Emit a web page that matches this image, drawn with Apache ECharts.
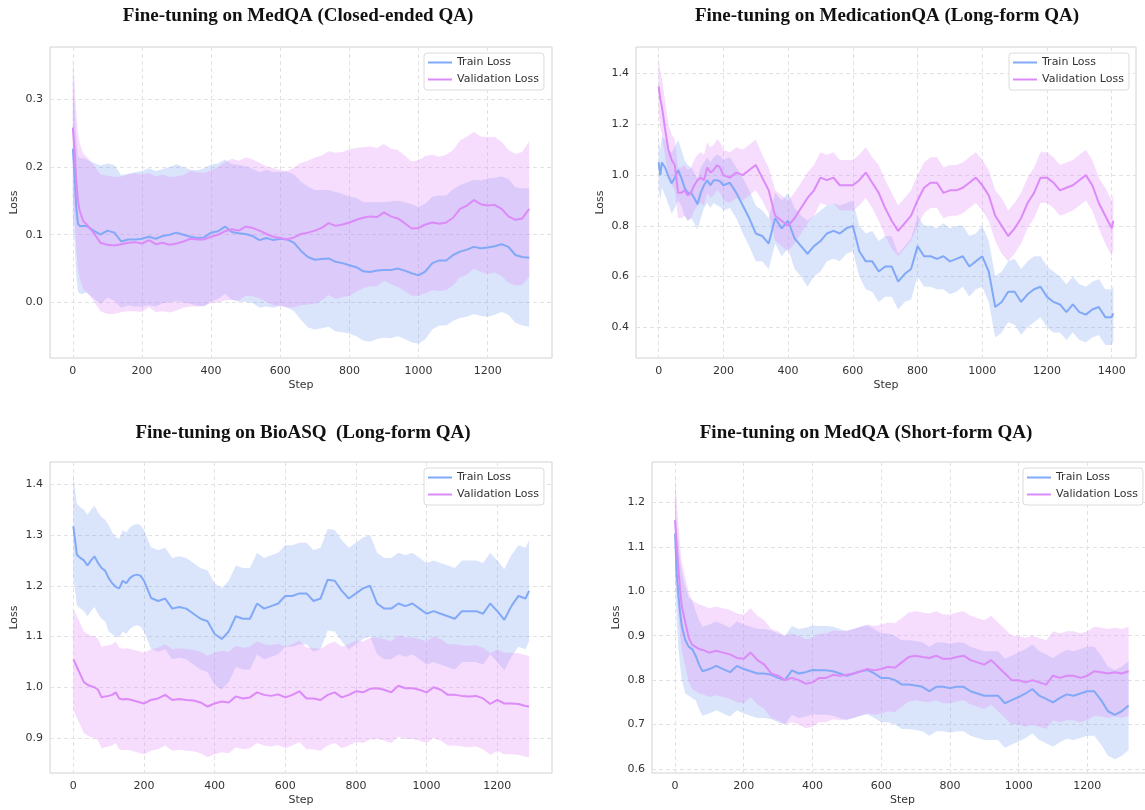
<!DOCTYPE html>
<html>
<head>
<meta charset="utf-8">
<title>Fine-tuning loss curves</title>
<script src="https://cdn.jsdelivr.net/npm/echarts@6/dist/echarts.min.js"></script>
<style>
  html, body { margin: 0; padding: 0; background: #fff; }
  #chart { width: 1145px; height: 810px; }
</style>
</head>
<body>
<div id="chart"></div>
<script>
// ---- MedQA (Closed-ended QA)
const p1Steps = [0,5,10,15,20,30,40,60,80,100,120,140,160,180,200,220,240,260,280,300,320,340,360,380,400,420,440,460,480,500,520,540,560,580,600,620,640,660,680,700,720,740,760,780,800,820,840,860,880,900,920,940,960,980,1000,1020,1040,1060,1080,1100,1120,1140,1160,1180,1200,1220,1240,1260,1280,1300,1320];
const p1TrainMean = [0.227,0.19,0.14,0.116,0.113,0.113,0.113,
  0.106,0.100,0.106,0.103,0.090,0.093,0.093,0.094,0.097,0.094,
  0.098,0.100,0.103,0.100,0.097,0.095,0.096,0.103,0.105,0.112,
  0.104,0.102,0.101,0.098,0.092,0.095,0.092,0.094,0.093,0.088,
  0.076,0.067,0.063,0.064,0.065,0.060,0.058,0.055,0.052,0.046,
  0.045,0.047,0.048,0.048,0.050,0.047,0.043,0.040,0.046,0.058,
  0.062,0.062,0.070,0.075,0.078,0.082,0.080,0.081,0.083,0.086,
  0.082,0.070,0.067,0.066];
const p1TrainStd = [0.105,0.10,0.10,0.10,0.10,0.10,0.098,0.10,0.102,0.099,
  0.10,0.098,0.097,0.099,0.10,0.101,0.10,0.099,0.10,0.101,
  0.10,0.099,0.10,0.102,0.101,0.10,0.099,0.10,0.101,0.100,
  0.099,0.100,0.101,0.100,0.099,0.100,0.101,0.102,0.104,0.103,
  0.102,0.101,0.103,0.102,0.101,0.102,0.102,0.103,0.101,0.100,
  0.101,0.100,0.101,0.102,0.101,0.100,0.098,0.096,0.096,0.097,
  0.098,0.099,0.099,0.100,0.102,0.101,0.100,0.100,0.100,0.101,
  0.102];
const p1ValMean = [0.258,0.225,0.18,0.15,0.135,0.120,0.115,
  0.103,0.088,0.085,0.084,0.086,0.088,0.089,0.087,0.092,0.086,
  0.088,0.085,0.087,0.090,0.094,0.093,0.093,0.097,0.100,0.105,
  0.108,0.106,0.112,0.110,0.106,0.101,0.097,0.095,0.093,0.096,
  0.101,0.103,0.106,0.110,0.117,0.113,0.115,0.118,0.122,0.125,
  0.127,0.126,0.133,0.127,0.124,0.117,0.109,0.110,0.115,0.118,
  0.116,0.118,0.125,0.138,0.143,0.151,0.145,0.143,0.144,0.138,
  0.127,0.122,0.124,0.138];
const p1ValStd = [0.102,0.10,0.10,0.10,0.10,0.10,0.10,
  0.10,0.101,0.102,0.101,0.100,0.101,0.102,0.101,0.099,0.100,
  0.101,0.100,0.099,0.098,0.100,0.099,0.098,0.098,0.100,0.102,
  0.104,0.103,0.102,0.101,0.100,0.100,0.101,0.100,0.101,0.103,
  0.105,0.106,0.108,0.107,0.106,0.108,0.107,0.108,0.106,0.104,
  0.103,0.102,0.101,0.100,0.101,0.100,0.099,0.100,0.101,0.100,
  0.099,0.100,0.100,0.101,0.102,0.101,0.100,0.101,0.100,0.099,
  0.098,0.097,0.098,0.100];
const p1XTicks = [0,200,400,600,800,1000,1200];
const p1YTicks = [0,0.1,0.2,0.3];

// ---- MedicationQA (Long-form QA)
const p2Steps = [0,5,10,20,30,40,50,60,70,80,90,100,110,120,130,140,150,160,170,180,190,200,220,240,260,280,300,320,340,360,380,400,420,440,460,480,500,520,540,560,580,600,620,640,660,680,700,720,740,760,780,800,820,840,860,880,900,920,940,960,980,1000,1020,1040,1060,1080,1100,1120,1140,1160,1180,1200,1220,1240,1260,1280,1300,1320,1340,1360,1380,1400,1405];
const p2TrainMean = [1.05,1.00,1.05,1.03,0.995,0.968,0.99,1.02,0.99,0.95,0.93,0.93,0.91,0.885,0.93,0.96,0.98,0.96,0.98,0.98,0.975,0.96,
  0.97,0.93,0.88,0.83,0.77,0.76,0.73,0.83,0.79,0.82,
  0.75,0.72,0.69,0.72,0.74,0.77,0.78,0.77,0.79,0.80,
  0.70,0.66,0.66,0.62,0.64,0.64,0.58,0.61,0.63,0.72,
  0.68,0.68,0.67,0.68,0.66,0.67,0.68,0.64,0.66,0.68,
  0.62,0.48,0.50,0.54,0.54,0.50,0.53,0.55,0.56,0.52,
  0.50,0.49,0.46,0.49,0.46,0.45,0.47,0.48,0.44,0.44,
  0.455];
const p2TrainStd = [0.10,0.10,0.10,0.11,0.11,0.12,0.12,0.12,0.11,0.11,0.11,0.10,0.10,0.10,0.10,0.09,0.09,0.09,0.09,0.10,0.10,0.10,
  0.10,0.10,0.11,0.11,0.11,0.10,0.10,0.10,0.11,0.11,
  0.12,0.12,0.13,0.12,0.12,0.11,0.11,0.11,0.10,0.10,
  0.10,0.11,0.12,0.12,0.12,0.12,0.11,0.11,0.12,0.12,
  0.12,0.12,0.12,0.13,0.13,0.13,0.12,0.12,0.11,0.12,
  0.12,0.12,0.12,0.12,0.13,0.13,0.13,0.13,0.12,0.12,
  0.12,0.11,0.11,0.11,0.11,0.11,0.11,0.11,0.11,0.11,
  0.11];
const p2ValMean = [1.35,1.30,1.27,1.18,1.10,1.06,1.04,0.93,0.93,0.94,0.92,0.93,0.96,0.98,0.99,0.98,1.03,1.01,1.02,1.04,1.03,1.00,
  0.99,1.01,1.00,1.02,1.04,0.99,0.94,0.84,0.82,0.80,
  0.83,0.87,0.91,0.94,0.99,0.98,0.99,0.96,0.96,0.96,
  0.98,1.01,0.97,0.93,0.87,0.82,0.78,0.81,0.84,0.90,
  0.95,0.97,0.97,0.93,0.94,0.94,0.95,0.97,0.99,0.96,
  0.92,0.84,0.80,0.76,0.79,0.83,0.89,0.93,0.99,0.99,
  0.97,0.94,0.95,0.96,0.98,1.00,0.96,0.89,0.84,0.79,
  0.82];
const p2ValStd = [0.11,0.11,0.11,0.11,0.10,0.10,0.10,0.10,0.10,0.10,0.10,0.10,0.10,0.10,0.10,0.10,0.10,0.10,0.10,0.10,0.10,0.10,
  0.10,0.10,0.10,0.10,0.10,0.09,0.09,0.10,0.10,0.10,
  0.10,0.10,0.10,0.10,0.10,0.10,0.10,0.10,0.10,0.10,
  0.10,0.10,0.10,0.11,0.11,0.11,0.10,0.10,0.10,0.10,
  0.10,0.10,0.10,0.10,0.10,0.10,0.10,0.10,0.10,0.10,
  0.10,0.10,0.11,0.10,0.10,0.10,0.10,0.10,0.10,0.10,
  0.10,0.10,0.10,0.10,0.10,0.10,0.10,0.10,0.11,0.11,
  0.11];
const p2XTicks = [0,200,400,600,800,1000,1200,1400];
const p2YTicks = [0.4,0.6,0.8,1.0,1.2,1.4];

// ---- BioASQ (Long-form QA)
const p3Steps = [0,5,10,20,30,40,50,60,70,80,90,100,110,120,130,140,150,160,170,180,190,200,220,240,260,280,300,320,340,360,380,400,420,440,460,480,500,520,540,560,580,600,620,640,660,680,700,720,740,760,780,800,820,840,860,880,900,920,940,960,980,1000,1020,1040,1060,1080,1100,1120,1140,1160,1180,1200,1220,1240,1260,1280,1290];
const p3TrainMean = [1.317,1.29,1.261,1.255,1.25,1.24,1.25,1.258,1.245,1.235,1.23,1.215,1.205,1.198,1.195,1.21,1.205,1.215,1.22,1.222,1.22,1.21,
  1.176,1.17,1.175,1.155,1.158,1.155,1.145,1.135,1.13,1.105,
  1.095,1.11,1.14,1.135,1.135,1.165,1.155,1.16,1.165,1.18,
  1.18,1.185,1.185,1.17,1.175,1.212,1.21,1.19,1.175,1.185,
  1.195,1.2,1.165,1.155,1.155,1.165,1.16,1.165,1.155,1.145,
  1.15,1.145,1.14,1.135,1.15,1.15,1.15,1.145,1.165,1.15,
  1.133,1.16,1.18,1.175,
  1.19];
const p3TrainStd = [0.10,0.10,0.10,0.10,0.10,0.10,0.10,0.10,0.10,0.10,0.10,0.105,0.10,0.098,0.097,0.10,0.10,0.10,0.10,0.10,0.10,0.10,
  0.10,0.10,0.10,0.10,0.10,0.10,0.10,0.10,0.10,0.10,
  0.10,0.10,0.10,0.10,0.10,0.10,0.10,0.10,0.10,0.10,
  0.10,0.10,0.10,0.10,0.10,0.10,0.10,0.10,0.10,0.10,
  0.10,0.10,0.10,0.10,0.10,0.10,0.10,0.10,0.10,0.10,
  0.10,0.10,0.10,0.10,0.10,0.10,0.10,0.10,0.10,0.10,
  0.10,0.10,0.10,0.10,
  0.10];
const p3ValMean = [1.055,1.048,1.04,1.025,1.01,1.005,1.002,1.0,0.995,0.98,0.982,0.983,0.985,0.99,0.978,0.976,0.977,0.976,0.974,0.972,0.97,0.968,
  0.975,0.978,0.985,0.975,0.977,0.975,0.974,0.97,0.962,0.968,
  0.972,0.97,0.982,0.978,0.98,0.99,0.985,0.983,0.986,0.98,
  0.985,0.992,0.978,0.978,0.975,0.985,0.99,0.98,0.985,0.992,
  0.99,0.997,0.998,0.995,0.99,1.003,0.998,0.998,0.995,0.99,
  1.0,0.995,0.985,0.985,0.983,0.982,0.983,0.978,0.967,0.975,
  0.968,0.968,0.967,0.963,
  0.962];
const p3ValStd = [0.10,0.10,0.10,0.10,0.10,0.10,0.10,0.10,0.10,0.10,0.10,0.10,0.10,0.10,0.10,0.10,0.10,0.10,0.10,0.10,0.10,0.10,
  0.10,0.10,0.10,0.10,0.10,0.10,0.10,0.10,0.10,0.10,
  0.10,0.10,0.10,0.10,0.10,0.10,0.10,0.10,0.10,0.10,
  0.10,0.10,0.10,0.10,0.10,0.10,0.10,0.10,0.10,0.10,
  0.10,0.10,0.10,0.10,0.10,0.10,0.10,0.10,0.10,0.10,
  0.10,0.10,0.10,0.10,0.10,0.10,0.10,0.10,0.10,0.10,
  0.10,0.10,0.10,0.10,
  0.10];
const p3XTicks = [0,200,400,600,800,1000,1200];
const p3YTicks = [0.9,1.0,1.1,1.2,1.3,1.4];

// ---- MedQA (Short-form QA)
const p4Steps = [0,5,10,15,20,30,40,50,60,70,80,100,120,140,160,180,200,220,240,260,280,300,320,340,360,380,400,420,440,460,480,500,520,540,560,580,600,620,640,660,680,700,720,740,760,780,800,820,840,860,880,900,920,940,960,980,1000,1020,1040,1060,1080,1100,1120,1140,1160,1180,1200,1220,1240,1260,1280,1300,1320];
const p4TrainMean = [1.13,1.04,0.99,0.95,0.92,0.89,0.875,0.87,0.855,0.835,0.82,
  0.825,0.832,0.825,0.818,0.832,0.825,0.82,0.815,0.815,0.812,
  0.805,0.80,0.822,0.815,0.818,0.823,0.822,0.822,0.82,0.815,
  0.81,0.815,0.82,0.823,0.815,0.805,0.805,0.80,0.79,0.79,
  0.788,0.785,0.775,0.785,0.785,0.782,0.785,0.785,0.775,0.77,
  0.765,0.765,0.765,0.748,0.755,0.762,0.77,0.78,0.765,0.758,
  0.75,0.76,0.768,0.765,0.77,0.775,0.775,0.755,0.73,0.722,
  0.73,0.743];
const p4TrainStd = [0.10,0.11,0.12,0.12,0.12,0.12,0.11,0.11,0.10,0.10,0.10,
  0.10,0.10,0.10,0.10,0.10,0.10,0.10,0.10,0.10,0.10,
  0.10,0.10,0.10,0.10,0.10,0.10,0.10,0.10,0.10,0.10,
  0.10,0.10,0.10,0.10,0.10,0.10,0.10,0.10,0.10,0.10,
  0.10,0.10,0.10,0.10,0.10,0.10,0.10,0.10,0.10,0.10,
  0.10,0.10,0.10,0.10,0.10,0.10,0.10,0.10,0.10,0.10,
  0.10,0.10,0.10,0.10,0.10,0.10,0.10,0.10,0.10,0.10,
  0.10,0.10];
const p4ValMean = [1.16,1.10,1.05,1.0,0.965,0.93,0.895,0.88,0.875,0.87,0.868,
  0.862,0.866,0.862,0.858,0.85,0.848,0.862,0.845,0.835,0.815,
  0.81,0.80,0.805,0.80,0.792,0.795,0.805,0.805,0.812,0.81,
  0.812,0.815,0.82,0.825,0.822,0.825,0.83,0.828,0.84,0.852,
  0.855,0.852,0.85,0.855,0.848,0.848,0.852,0.855,0.845,0.84,
  0.835,0.845,0.83,0.815,0.80,0.80,0.795,0.80,0.795,0.79,
  0.81,0.805,0.81,0.81,0.805,0.81,0.82,0.818,0.815,0.818,
  0.815,0.82];
const p4ValStd = [0.10,0.10,0.10,0.10,0.10,0.10,0.10,0.10,0.10,0.10,0.10,
  0.10,0.10,0.10,0.10,0.10,0.10,0.10,0.10,0.10,0.10,
  0.10,0.10,0.10,0.10,0.10,0.10,0.10,0.10,0.10,0.10,
  0.10,0.10,0.10,0.10,0.10,0.10,0.10,0.10,0.10,0.10,
  0.10,0.10,0.10,0.10,0.10,0.10,0.10,0.10,0.10,0.10,
  0.10,0.10,0.10,0.10,0.10,0.10,0.10,0.10,0.10,0.10,
  0.10,0.10,0.10,0.10,0.10,0.10,0.10,0.10,0.10,0.10,
  0.10,0.10];
const p4XTicks = [0,200,400,600,800,1000,1200];
const p4YTicks = [0.6,0.7,0.8,0.9,1.0,1.1,1.2];

// colours
const trainColor = '#82a9f7';
const valColor = '#dc8af8';
const trainFill = 'rgba(109,152,245,0.25)';
const valFill = 'rgba(226,138,248,0.30)';
const textColor = '#333';
const uiFont = 'DejaVu Sans';

// layout of each subplot (pixel boxes)
const panels = [
  { title: 'Fine-tuning on MedQA (Closed-ended QA)', titleX: 298, titleTop: 7,
    left: 50, top: 47, width: 502, height: 311, xMin: -66, xMax: 1386, yMin: -0.082, yMax: 0.377,
    xTicks: p1XTicks, yTicks: p1YTicks, legendLeft: 424, legendTop: 53,
    steps: p1Steps, trainMean: p1TrainMean, trainStd: p1TrainStd, valMean: p1ValMean, valStd: p1ValStd },
  { title: 'Fine-tuning on MedicationQA (Long-form QA)', titleX: 887, titleTop: 7,
    left: 636, top: 47, width: 500, height: 311, xMin: -70, xMax: 1475, yMin: 0.279, yMax: 1.505,
    xTicks: p2XTicks, yTicks: p2YTicks, legendLeft: 1009, legendTop: 53,
    steps: p2Steps, trainMean: p2TrainMean, trainStd: p2TrainStd, valMean: p2ValMean, valStd: p2ValStd },
  { title: 'Fine-tuning on BioASQ  (Long-form QA)', titleX: 303, titleTop: 424,
    left: 50, top: 462, width: 502, height: 311, xMin: -66, xMax: 1355, yMin: 0.831, yMax: 1.444,
    xTicks: p3XTicks, yTicks: p3YTicks, legendLeft: 424, legendTop: 468,
    steps: p3Steps, trainMean: p3TrainMean, trainStd: p3TrainStd, valMean: p3ValMean, valStd: p3ValStd },
  { title: 'Fine-tuning on MedQA (Short-form QA)', titleX: 866, titleTop: 424,
    left: 652, top: 462, width: 501, height: 311, xMin: -67, xMax: 1391, yMin: 0.591, yMax: 1.291,
    xTicks: p4XTicks, yTicks: p4YTicks, legendLeft: 1023, legendTop: 468,
    steps: p4Steps, trainMean: p4TrainMean, trainStd: p4TrainStd, valMean: p4ValMean, valStd: p4ValStd }
];

function pairs(steps, vals) {
  return steps.map((s, i) => [s, vals[i]]);
}

// mean ± std band as one polygon, placed with the axis scales (api.coord)
function bandSeries(i, steps, mean, std, fill) {
  return {
    type: 'custom', xAxisIndex: i, yAxisIndex: i, silent: true, animation: false,
    data: steps.map((s, k) => [s, mean[k] - std[k], mean[k] + std[k]]),
    encode: { x: 0, y: [1, 2] },
    renderItem: (params, api) => {
      if (params.dataIndexInside !== 0) return null;
      const n = params.dataInsideLength;
      const upper = [], lower = [];
      for (let k = 0; k < n; k++) {
        upper.push(api.coord([api.value(0, k), api.value(2, k)]));
        lower.push(api.coord([api.value(0, k), api.value(1, k)]));
      }
      return {
        type: 'polygon',
        shape: { points: upper.concat(lower.reverse()) },
        style: { fill: fill }
      };
    }
  };
}

function lineSeries(i, name, steps, mean, color) {
  return {
    type: 'line', name: name, xAxisIndex: i, yAxisIndex: i, data: pairs(steps, mean),
    color: color, symbol: 'none', showSymbol: false, silent: true, animation: false,
    lineStyle: { color: color, width: 2 }, emphasis: { disabled: true }
  };
}

const titles = [], grids = [], xAxes = [], yAxes = [], legends = [], series = [];

panels.forEach((p, i) => {
  titles.push({
    text: p.title, left: p.titleX, top: p.titleTop, textAlign: 'center', padding: 0,
    textStyle: { fontFamily: 'Liberation Serif', fontWeight: 'bold', fontSize: 19, color: '#111' }
  });
  grids.push({
    left: p.left, top: p.top, width: p.width, height: p.height, outerBoundsMode: 'none',
    show: true, borderColor: '#d2d2d2', borderWidth: 1, backgroundColor: 'transparent'
  });
  xAxes.push({
    type: 'value', gridIndex: i, min: p.xMin, max: p.xMax,
    name: 'Step', nameLocation: 'middle', nameGap: 22,
    nameTextStyle: { fontFamily: uiFont, fontSize: 11, color: textColor },
    axisLine: { show: false },
    axisTick: { show: false, customValues: p.xTicks },
    axisLabel: { customValues: p.xTicks, margin: 8, fontFamily: uiFont, fontSize: 11, color: textColor,
      formatter: v => String(v) },
    splitLine: { show: true, lineStyle: { color: '#e2e2e2', width: 1, type: [4, 3] } }
  });
  yAxes.push({
    type: 'value', gridIndex: i, min: p.yMin, max: p.yMax,
    name: 'Loss', nameLocation: 'middle', nameGap: 30, nameRotate: 90,
    nameTextStyle: { fontFamily: uiFont, fontSize: 11, color: textColor },
    axisLine: { show: false },
    axisTick: { show: false, customValues: p.yTicks },
    axisLabel: { customValues: p.yTicks, margin: 7, fontFamily: uiFont, fontSize: 11, color: textColor,
      formatter: v => v.toFixed(1) },
    splitLine: { show: true, lineStyle: { color: '#e2e2e2', width: 1, type: [4, 3] } }
  });
  legends.push({
    left: p.legendLeft, top: p.legendTop, orient: 'vertical', align: 'left',
    data: ['Train Loss', 'Validation Loss'], selectedMode: false,
    icon: 'rect', itemWidth: 24, itemHeight: 2, itemGap: 6,
    padding: [4, 5, 5, 4], borderColor: '#dcdcdc', borderWidth: 1, borderRadius: 3,
    backgroundColor: 'rgba(255,255,255,0.85)',
    textStyle: { fontFamily: uiFont, fontSize: 11, color: textColor }
  });

  series.push(bandSeries(i, p.steps, p.trainMean, p.trainStd, trainFill));
  series.push(lineSeries(i, 'Train Loss', p.steps, p.trainMean, trainColor));
  series.push(bandSeries(i, p.steps, p.valMean, p.valStd, valFill));
  series.push(lineSeries(i, 'Validation Loss', p.steps, p.valMean, valColor));
});

const chart = echarts.init(document.getElementById('chart'));
chart.setOption({
  animation: false,
  backgroundColor: '#fff',
  title: titles,
  grid: grids,
  xAxis: xAxes,
  yAxis: yAxes,
  legend: legends,
  series: series
});
</script>
</body>
</html>
